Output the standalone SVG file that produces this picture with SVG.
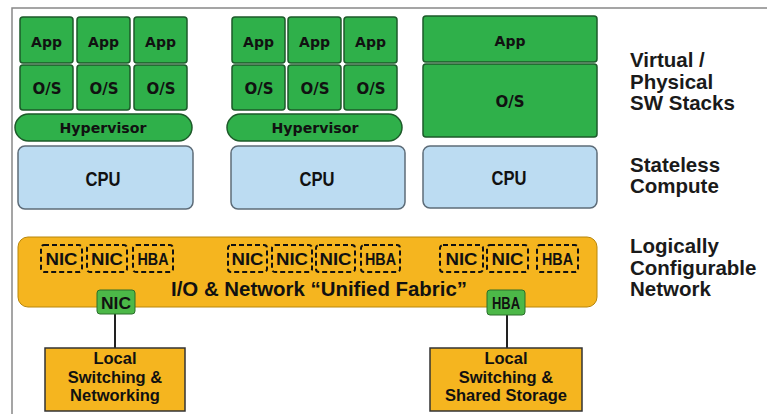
<svg xmlns="http://www.w3.org/2000/svg" width="767" height="414" viewBox="0 0 767 414">
<style>
.g{fill:#2fb04a;stroke:#1d5a2a;stroke-width:1.5}
.cpu{fill:#bcdcf2;stroke:#5d6c78;stroke-width:1.5}
.or{fill:#f5b51f;stroke:#b8860b;stroke-width:1}
.box{fill:#f5b51f;stroke:#333;stroke-width:1.5}
.dash{fill:none;stroke:#111;stroke-width:2;stroke-dasharray:5,3}
.sg{fill:#4cb848;stroke:#2a6e2a;stroke-width:1}
.t{font-family:"DejaVu Sans",Verdana,sans-serif;font-weight:bold;fill:#111;text-anchor:middle}
.s{font-size:14px}
.o{font-size:15px}
.c{font-family:"Liberation Sans",Arial,sans-serif;font-weight:bold;fill:#111;font-size:21px;text-anchor:middle}
.l{font-family:"Liberation Sans",Arial,sans-serif;font-weight:bold;fill:#1a1a1a;font-size:20.5px}
.n{font-family:"Liberation Sans",Arial,sans-serif;font-weight:bold;fill:#111;font-size:16px;text-anchor:middle}
.f{font-family:"Liberation Sans",Arial,sans-serif;font-weight:bold;fill:#111;font-size:20px;text-anchor:middle}
.b{font-family:"Liberation Sans",Arial,sans-serif;font-weight:bold;fill:#111;font-size:16.5px;text-anchor:middle}
</style>
<rect width="767" height="414" fill="#ffffff"/>
<path d="M12 414 V8 H767" fill="none" stroke="#888" stroke-width="1.5"/>

<g id="stack1">
<rect class="g" x="20" y="17" width="53" height="46" rx="3"/><text class="t s" x="46.5" y="47">App</text>
<rect class="g" x="77" y="17" width="53" height="46" rx="3"/><text class="t s" x="103.5" y="47">App</text>
<rect class="g" x="134" y="17" width="53" height="46" rx="3"/><text class="t s" x="160.5" y="47">App</text>
<rect class="g" x="20" y="65" width="53" height="45" rx="3"/><text class="t o" x="47" y="94">O/S</text>
<rect class="g" x="77" y="65" width="53" height="45" rx="3"/><text class="t o" x="104" y="94">O/S</text>
<rect class="g" x="134" y="65" width="53" height="45" rx="3"/><text class="t o" x="161" y="94">O/S</text>
<rect class="g" x="15" y="114" width="177" height="27" rx="13.5"/><text class="t s" x="103" y="133" textLength="87" lengthAdjust="spacingAndGlyphs">Hypervisor</text>
<rect class="cpu" x="18" y="146" width="175" height="63" rx="7"/><text class="c" x="103" y="186" textLength="35" lengthAdjust="spacingAndGlyphs">CPU</text>
</g>

<g id="stack2">
<rect class="g" x="232" y="17" width="53" height="46" rx="3"/><text class="t s" x="258.5" y="47">App</text>
<rect class="g" x="288" y="17" width="53" height="46" rx="3"/><text class="t s" x="314.5" y="47">App</text>
<rect class="g" x="344" y="17" width="53" height="46" rx="3"/><text class="t s" x="370.5" y="47">App</text>
<rect class="g" x="232" y="65" width="53" height="45" rx="3"/><text class="t o" x="259" y="94">O/S</text>
<rect class="g" x="288" y="65" width="53" height="45" rx="3"/><text class="t o" x="315" y="94">O/S</text>
<rect class="g" x="344" y="65" width="53" height="45" rx="3"/><text class="t o" x="371" y="94">O/S</text>
<rect class="g" x="227" y="114" width="175" height="27" rx="13.5"/><text class="t s" x="315" y="133" textLength="87" lengthAdjust="spacingAndGlyphs">Hypervisor</text>
<rect class="cpu" x="231" y="146" width="174" height="63" rx="7"/><text class="c" x="317" y="186" textLength="35" lengthAdjust="spacingAndGlyphs">CPU</text>
</g>

<g id="stack3">
<rect class="g" x="423" y="16" width="174" height="46" rx="3"/><text class="t s" x="510" y="46">App</text>
<rect class="g" x="423" y="64" width="174" height="73" rx="3"/><text class="t o" x="510" y="107">O/S</text>
<rect class="cpu" x="423" y="146" width="174" height="62" rx="7"/><text class="c" x="509" y="185" textLength="35" lengthAdjust="spacingAndGlyphs">CPU</text>
</g>

<g id="labels">
<text class="l" x="630" y="67">Virtual /</text>
<text class="l" x="630" y="89">Physical</text>
<text class="l" x="630" y="110">SW Stacks</text>
<text class="l" x="630" y="172">Stateless</text>
<text class="l" x="630" y="193">Compute</text>
<text class="l" x="630" y="253">Logically</text>
<text class="l" x="630" y="275">Configurable</text>
<text class="l" x="630" y="296">Network</text>
</g>

<g id="fabric">
<rect class="or" x="18" y="237" width="579" height="70" rx="10"/>
<rect class="dash" x="41" y="245" width="41" height="27" rx="3"/><text class="n" x="61.5" y="265" textLength="32" lengthAdjust="spacingAndGlyphs">NIC</text>
<rect class="dash" x="87" y="245" width="40" height="27" rx="3"/><text class="n" x="107" y="265" textLength="32" lengthAdjust="spacingAndGlyphs">NIC</text>
<rect class="dash" x="133" y="245" width="40" height="27" rx="3"/><text class="n" x="153" y="265" textLength="31" lengthAdjust="spacingAndGlyphs">HBA</text>
<rect class="dash" x="228" y="245" width="39" height="27" rx="3"/><text class="n" x="247.5" y="265" textLength="32" lengthAdjust="spacingAndGlyphs">NIC</text>
<rect class="dash" x="272" y="245" width="40" height="27" rx="3"/><text class="n" x="292" y="265" textLength="32" lengthAdjust="spacingAndGlyphs">NIC</text>
<rect class="dash" x="316" y="245" width="39" height="27" rx="3"/><text class="n" x="335.5" y="265" textLength="32" lengthAdjust="spacingAndGlyphs">NIC</text>
<rect class="dash" x="361" y="245" width="39" height="27" rx="3"/><text class="n" x="380.5" y="265" textLength="31" lengthAdjust="spacingAndGlyphs">HBA</text>
<rect class="dash" x="440" y="245" width="43" height="27" rx="3"/><text class="n" x="461.5" y="265" textLength="32" lengthAdjust="spacingAndGlyphs">NIC</text>
<rect class="dash" x="487" y="245" width="41" height="27" rx="3"/><text class="n" x="507.5" y="265" textLength="32" lengthAdjust="spacingAndGlyphs">NIC</text>
<rect class="dash" x="537" y="245" width="41" height="27" rx="3"/><text class="n" x="557.5" y="265" textLength="31" lengthAdjust="spacingAndGlyphs">HBA</text>
<text class="f" x="319" y="296" textLength="296" lengthAdjust="spacingAndGlyphs">I/O &amp; Network “Unified Fabric”</text>
</g>

<g id="connectors">
<line x1="115" y1="314" x2="115" y2="348" stroke="#222" stroke-width="2"/>
<line x1="507" y1="315" x2="507" y2="348" stroke="#222" stroke-width="2"/>
</g>

<g id="nic-port">
<rect class="sg" x="97" y="290" width="38" height="24" rx="3"/><text class="n" x="116" y="309" textLength="30" lengthAdjust="spacingAndGlyphs">NIC</text>
</g>
<g id="hba-port">
<rect class="sg" x="487" y="290" width="38" height="25" rx="3"/><text class="n" x="506" y="309" textLength="28" lengthAdjust="spacingAndGlyphs">HBA</text>
</g>

<g id="local-net">
<rect class="box" x="45" y="348" width="140" height="63"/>
<text class="b" x="115" y="364">Local</text>
<text class="b" x="115" y="383">Switching &amp;</text>
<text class="b" x="115" y="401">Networking</text>
</g>
<g id="local-storage">
<rect class="box" x="430" y="348" width="152" height="63"/>
<text class="b" x="506" y="364">Local</text>
<text class="b" x="506" y="383">Switching &amp;</text>
<text class="b" x="506" y="401">Shared Storage</text>
</g>
</svg>
